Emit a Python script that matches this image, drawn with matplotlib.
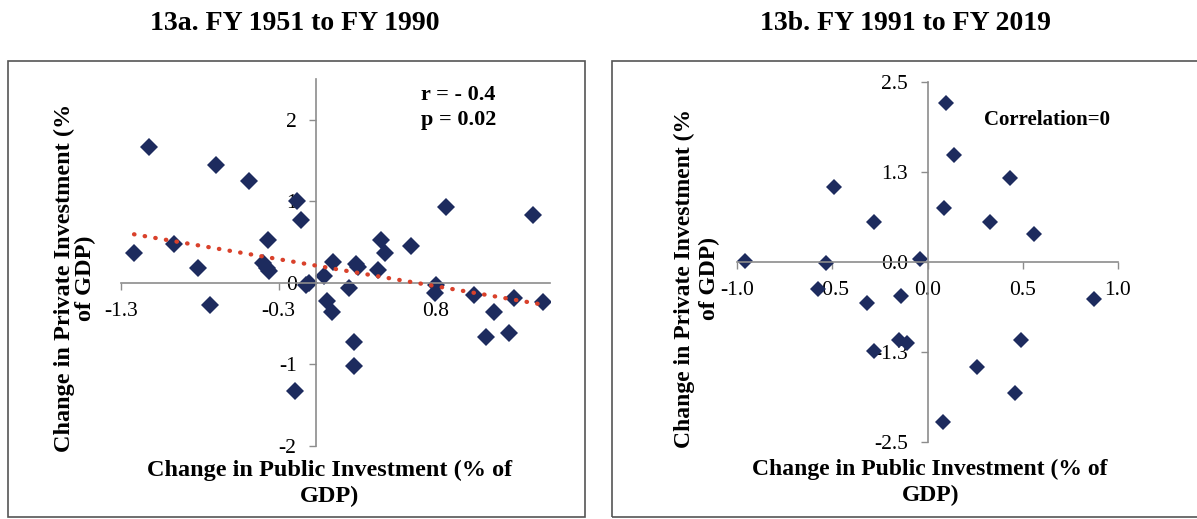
import numpy as np
import matplotlib.pyplot as plt
from matplotlib.patches import Rectangle

plt.rcParams['font.family'] = ['Liberation Serif', 'DejaVu Serif']
plt.rcParams['axes.unicode_minus'] = False

# 13a: FY 1951 - FY 1990 (change in public vs private investment, % of GDP)
pub_a = [-1.213, -1.115, -0.949, -0.787, -0.710, -0.667, -0.444, -0.351, -0.328, -0.321,
         -0.313, -0.141, -0.128, -0.097, -0.064, -0.044, 0.051, 0.072, 0.108, 0.110,
         0.223, 0.256, 0.256, 0.264, 0.282, 0.410, 0.431, 0.462, 0.633, 0.790,
         0.800, 0.867, 1.056, 1.133, 1.185, 1.287, 1.321, 1.449, 1.513]
priv_a = [0.37, 1.67, 0.48, 0.18, -0.27, 1.45, 1.25, 0.24, 0.18, 0.52,
          0.14, -1.33, 1.00, 0.77, -0.02, 0.00, 0.09, -0.22, -0.36, 0.26,
          -0.06, -0.72, -1.02, 0.23, 0.20, 0.16, 0.53, 0.37, 0.45, -0.12,
          -0.02, 0.93, -0.15, -0.66, -0.36, -0.62, -0.18, 0.83, -0.23]

# 13b: FY 1991 - FY 2019
pub_b = [-0.960, -0.575, -0.533, -0.491, -0.320, -0.280, -0.282, -0.150, -0.139, -0.110,
         -0.040, 0.080, 0.087, 0.095, 0.141, 0.258, 0.328, 0.435, 0.459, 0.493,
         0.559, 0.875]
priv_b = [0.01, -0.37, -0.01, 1.05, -0.57, -1.24, 0.55, -1.08, -0.47, -1.12,
          0.04, -2.23, 0.75, 2.21, 1.49, -1.46, 0.55, 1.17, -1.82, -1.08,
          0.39, -0.51]

xt_a = [-1.3, -0.25, 0.8]
xl_a = ['-1.3', '-0.3', '0.8']
yt_a = [-2, -1, 0, 1, 2]
yl_a = ['-2', '-1', '0', '1', '2']
xt_b = [-1.0, -0.5, 0.0, 0.5, 1.0]
xl_b = ['-1.0', '-0.5', '0.0', '0.5', '1.0']
yt_b = [-2.5, -1.25, 0.0, 1.25, 2.5]
yl_b = ['-2.5', '-1.3', '0.0', '1.3', '2.5']

navy = '#1d2b5e'
grey = '#8c8c8c'
red = '#d9412b'

fig = plt.figure(figsize=(11.97, 5.19), dpi=100)

# panel frames
fig.add_artist(Rectangle((0.0067, 0.0039), 0.482, 0.8786, transform=fig.transFigure,
                         fill=False, edgecolor='#555555', lw=1.2))
fig.add_artist(Rectangle((0.5113, 0.0039), 0.52, 0.8786, transform=fig.transFigure,
                         fill=False, edgecolor='#555555', lw=1.2))

fig.text(295 / 1197, 1 - 23 / 519, '13a. FY 1951 to FY 1990', ha='center', va='center',
         fontsize=20, fontweight='bold')
fig.text(905 / 1197, 1 - 23 / 519, '13b. FY 1991 to FY 2019', ha='center', va='center',
         fontsize=20, fontweight='bold')


def style(ax, xt, xl, yt, yl):
    for s in ('top', 'right'):
        ax.spines[s].set_visible(False)
    for s in ('left', 'bottom'):
        ax.spines[s].set_position(('data', 0))
        ax.spines[s].set_color(grey)
        ax.spines[s].set_linewidth(1.2)
    ax.set_xticks(xt, xl)
    ax.set_yticks(yt, yl)
    ax.tick_params(direction='out', length=5, width=1, color=grey, labelsize=15.5, pad=9)
    # tick labels sit on a white box, hiding the marks behind them
    for lab in ax.get_xticklabels() + ax.get_yticklabels():
        lab.set_bbox(dict(facecolor='white', edgecolor='none', pad=0.5))
    ax.patch.set_visible(False)


# --- 13a ---
ax1 = fig.add_axes([121 / 1197, 73 / 519, 429 / 1197, 367 / 519])
ax1.plot(pub_a, priv_a, 'D', color=navy, ms=9.3, mew=0, zorder=2)
k, b = np.polyfit(pub_a, priv_a, 1)
xx = np.array([min(pub_a), max(pub_a)])
ax1.plot(xx, k * xx + b, color=red, lw=3.1, linestyle=(0, (0.1, 2.4)),
         dash_capstyle='round', zorder=3)
ax1.set_xlim(-1.3, 1.56)
ax1.set_ylim(-2, 2.5)
style(ax1, xt_a, xl_a, yt_a, yl_a)
ax1.set_xlabel('Change in Public Investment (% of\nGDP)', fontsize=17.5, fontweight='bold',
               va='center', linespacing=1.3)
ax1.xaxis.set_label_coords(0.487, -0.103)
ax1.set_ylabel('Change in Private Investment (%\nof GDP)', fontsize=17.5, fontweight='bold',
               va='center', linespacing=1.0)
ax1.yaxis.set_label_coords(-0.107, 0.458)
ax1.text(0.786, 0.922, 'r = - 0.4\np = 0.02', transform=ax1.transAxes, ha='center',
         va='center', fontsize=16, fontweight='bold', linespacing=1.35)

# --- 13b ---
ax2 = fig.add_axes([737 / 1197, 77.3 / 519, 381 / 1197, 359.4 / 519])
ax2.plot(pub_b, priv_b, 'D', color=navy, ms=8.3, mew=0, zorder=2)
ax2.set_xlim(-1.0, 1.0)
ax2.set_ylim(-2.5, 2.5)
style(ax2, xt_b, xl_b, yt_b, yl_b)
ax2.set_xlabel('Change in Public Investment (% of\nGDP)', fontsize=17, fontweight='bold',
               va='center', linespacing=1.3)
ax2.xaxis.set_label_coords(0.507, -0.112)
ax2.set_ylabel('Change in Private Investment (%\nof GDP)', fontsize=17, fontweight='bold',
               va='center', linespacing=1.25)
ax2.yaxis.set_label_coords(-0.106, 0.455)
ax2.text(0.814, 0.895, 'Correlation=0', transform=ax2.transAxes, ha='center',
         va='center', fontsize=15, fontweight='bold')

fig.savefig('out.png', dpi=100)
